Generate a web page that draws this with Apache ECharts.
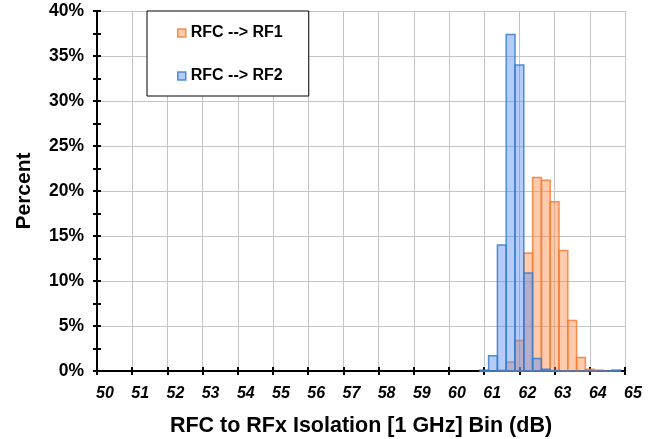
<!DOCTYPE html>
<html>
<head>
<meta charset="utf-8">
<script src="https://cdn.jsdelivr.net/npm/echarts@6/dist/echarts.min.js"></script>
<style>
  html, body { margin: 0; padding: 0; background: #fff; }
  #panel { width: 662px; height: 439px; }
</style>
</head>
<body>
<div id="panel"></div>
<script>
// bin centres (dB), bin width 0.25
const binCenters = [61.0, 61.25, 61.5, 61.75, 62.0, 62.25, 62.5, 62.75, 63.0, 63.25, 63.5, 63.75, 64.0, 64.25, 64.5, 64.75];
const rf1Pct = [0, 0, 0.1, 1.0, 3.4, 13.1, 21.5, 21.2, 18.8, 13.4, 5.6, 1.5, 0.2, 0.1, 0, 0];
const rf2Pct = [0.1, 1.7, 14.0, 37.4, 34.0, 10.9, 1.4, 0.2, 0.05, 0, 0, 0, 0, 0, 0, 0.1];
const binWidth = 0.25;
const seriesNames = ['RFC --> RF1', 'RFC --> RF2'];
const xTicks = [50, 65, 1];
const yTicks = [0, 40, 5];

const FONT = 'Liberation Sans, Arial, sans-serif';
const ORANGE = { fill: 'rgba(255,140,70,0.45)', stroke: 'rgba(245,125,50,0.85)' };
const BLUE = { fill: 'rgba(90,140,240,0.45)', stroke: 'rgba(50,125,210,0.85)' };

const toPairs = (vals) => binCenters.map((c, i) => [c, vals[i]]);

const barRenderer = (col) => function (params, api) {
  const x = api.value(0);
  const y = api.value(1);
  const p0 = api.coord([x - binWidth / 2, y]);
  const p1 = api.coord([x + binWidth / 2, 0]);
  return {
    type: 'rect',
    shape: { x: p0[0], y: p0[1], width: p1[0] - p0[0], height: p1[1] - p0[1] },
    style: { fill: col.fill, stroke: col.stroke, lineWidth: 1.5 },
  };
};

const axisLineStyle = { color: '#000', width: 2 };

const option = {
  backgroundColor: '#fff',
  animation: false,
  grid: { left: 97, right: 37, top: 11, bottom: 68, outerBoundsMode: 'none', containLabel: false },
  legend: {
    orient: 'vertical',
    left: 147,
    top: 11,
    padding: [14, 26, 12, 30],
    itemGap: 27,
    itemWidth: 8,
    itemHeight: 8,
    icon: 'rect',
    borderColor: '#000',
    borderWidth: 1,
    backgroundColor: '#fff',
    textStyle: { fontFamily: FONT, fontWeight: 'bold', fontSize: 16, color: '#000' },
    data: [
      { name: seriesNames[0], itemStyle: { color: 'rgb(255,203,172)', borderColor: ORANGE.stroke, borderWidth: 1.5 } },
      { name: seriesNames[1], itemStyle: { color: 'rgb(181,203,248)', borderColor: BLUE.stroke, borderWidth: 1.5 } },
    ],
  },
  xAxis: [
    {
      type: 'value',
      position: 'bottom',
      min: xTicks[0],
      max: xTicks[1],
      interval: xTicks[2],
      name: 'RFC to RFx Isolation [1 GHz] Bin (dB)',
      nameLocation: 'middle',
      nameGap: 44,
      nameTextStyle: { fontFamily: FONT, fontWeight: 'bold', fontSize: 21.5, color: '#000' },
      axisLine: { show: true, lineStyle: axisLineStyle },
      axisTick: { show: true, length: 4, lineStyle: axisLineStyle },
      axisLabel: {
        fontFamily: FONT, fontWeight: 'bold', fontStyle: 'italic', fontSize: 16, color: '#000',
        margin: 15, padding: [0, 0, 0, 16],
      },
      splitLine: { show: true, lineStyle: { color: '#c4c4c4', width: 1 } },
    },
    {
      type: 'value',
      position: 'bottom',
      min: xTicks[0],
      max: xTicks[1],
      interval: xTicks[2],
      axisLine: { show: true, lineStyle: axisLineStyle },
      axisTick: { show: true, inside: true, length: 4, lineStyle: axisLineStyle },
      axisLabel: { show: false },
      splitLine: { show: false },
    },
  ],
  yAxis: [
    {
      type: 'value',
      position: 'left',
      min: yTicks[0],
      max: yTicks[1],
      interval: yTicks[2],
      name: 'Percent',
      nameLocation: 'middle',
      nameGap: 62,
      nameTextStyle: { fontFamily: FONT, fontWeight: 'bold', fontSize: 21, color: '#000' },
      axisLine: { show: true, lineStyle: axisLineStyle },
      axisTick: { show: true, length: 4, lineStyle: axisLineStyle },
      minorTick: { show: true, splitNumber: 2, length: 4, lineStyle: axisLineStyle },
      axisLabel: {
        fontFamily: FONT, fontWeight: 'bold', fontSize: 17.5, color: '#000', margin: 13,
        formatter: '{value}%',
      },
      splitLine: { show: true, lineStyle: { color: '#c4c4c4', width: 1 } },
    },
    {
      type: 'value',
      position: 'left',
      min: yTicks[0],
      max: yTicks[1],
      interval: yTicks[2],
      axisLine: { show: true, lineStyle: axisLineStyle },
      axisTick: { show: true, inside: true, length: 4, lineStyle: axisLineStyle },
      minorTick: { show: true, splitNumber: 2, length: 4, lineStyle: axisLineStyle },
      axisLabel: { show: false },
      splitLine: { show: false },
    },
  ],
  series: [
    {
      name: seriesNames[0],
      type: 'custom',
      renderItem: barRenderer(ORANGE),
      data: toPairs(rf1Pct),
      encode: { x: 0, y: 1 },
    },
    {
      name: seriesNames[1],
      type: 'custom',
      renderItem: barRenderer(BLUE),
      data: toPairs(rf2Pct),
      encode: { x: 0, y: 1 },
    },
  ],
};

const myChart = echarts.init(document.getElementById('panel'), null, { renderer: 'canvas' });
myChart.setOption(option);
</script>
</body>
</html>
